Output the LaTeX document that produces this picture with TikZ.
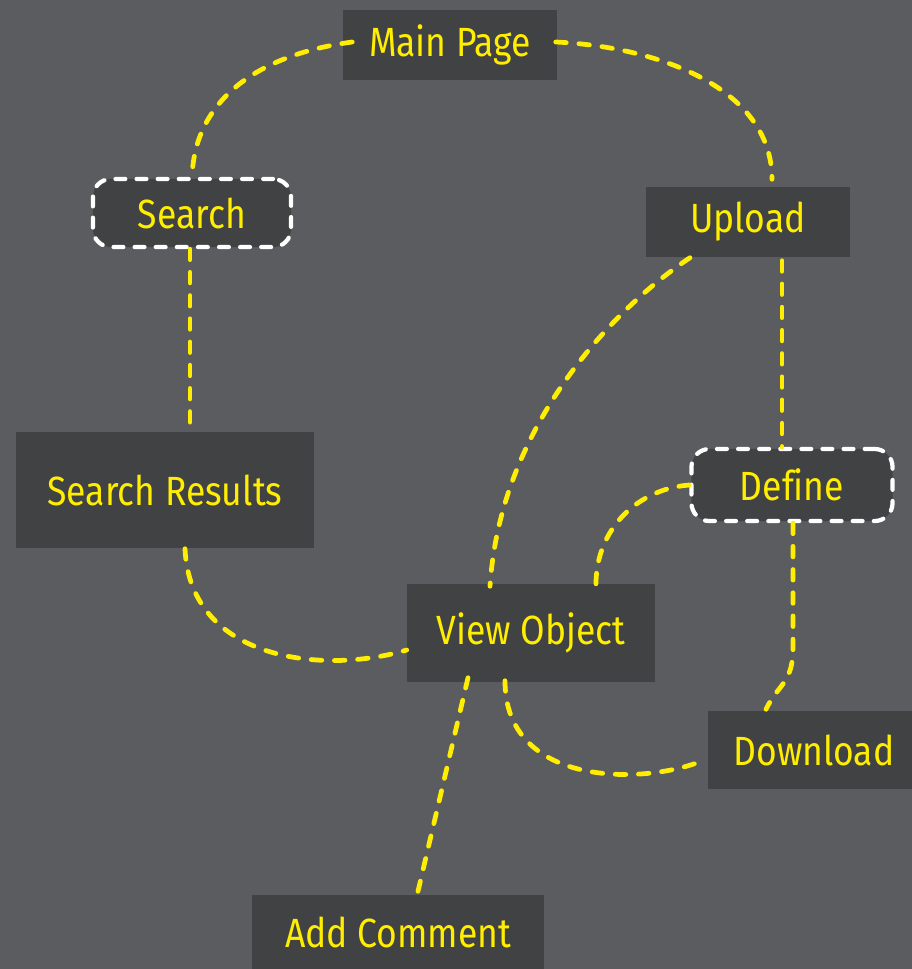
\documentclass[tikz,border=0pt]{standalone}
\usepackage{fontspec}
\setmainfont{Fira Sans}[FakeStretch=0.87, Ligatures=NoCommon]
\usetikzlibrary{calc}
\definecolor{bggray}{HTML}{5B5C5F}
\definecolor{linkyellow}{HTML}{FFEE00}

\begin{document}
\begin{tikzpicture}[x=0.01cm, y=0.01cm,
    pagebox/.style={fill=black, fill opacity=0.28, text opacity=1, text=linkyellow,
      font=\fontsize{11.6}{14}\selectfont},
    markedbox/.style={pagebox, draw=white, line width=1.2pt,
      dash pattern=on 2.8pt off 3.2pt, line cap=round, rounded corners=0.18cm},
    linkline/.style={linkyellow, line width=1.35pt, dash pattern=on 3pt off 3.6pt, line cap=round}]
    % Background
    \useasboundingbox (0,0) rectangle (912,-969);
    \fill[bggray] (0,0) rectangle (912,-969);

    % Pages
    \node[pagebox, minimum width=2.14cm, minimum height=0.70cm] (mainpage) at (450,-45) {Main Page};
    \node[markedbox, minimum width=1.98cm, minimum height=0.68cm] (search) at (192,-213) {Search};
    \node[pagebox, minimum width=2.04cm, minimum height=0.70cm] (upload) at (748,-222) {Upload};
    \node[pagebox, minimum width=2.98cm, minimum height=1.16cm] (results) at (165,-490) {Search Results};
    \node[markedbox, minimum width=2.01cm, minimum height=0.72cm] (define) at (792,-485) {Define};
    \node[pagebox, minimum width=2.47cm, minimum height=0.98cm] (viewobj) at (531,-633) {View Object};
    \node[pagebox, minimum width=2.12cm, minimum height=0.78cm] (download) at (814,-750) {Download};
    \node[pagebox, minimum width=2.92cm, minimum height=0.74cm] (comment) at (398,-932) {Add Comment};

    % Links between pages
    \draw[linkline] ($(mainpage.west)+(10,3)$) .. controls +(-90,-12) and +(3,80) .. (search.north);
    \draw[linkline] ($(mainpage.east)+(-2,3)$) .. controls +(105,-5) and +(0,90) .. ($(upload.north)+(24,7)$);
    \draw[linkline] ($(search.south)+(-2,0)$) -- ($(results.north)+(25,0)$);
    \draw[linkline] ($(upload.south)+(-58,0)$) .. controls +(-80,-53) and +(10,157) .. ($(viewobj.north)+(-41,-3)$);
    \draw[linkline] ($(upload.south)+(34,-3)$) -- ($(define.north)+(-10,0)$);
    \draw[linkline] (define.west) .. controls +(-52,-4) and +(0,55) .. ($(viewobj.north)+(65,-1)$);
    \draw[linkline] ($(define.south)+(1,0)$) -- ++(0,-125) .. controls +(0,-35) and +(12,25) .. ($(download.north)+(-48,1)$);
    \draw[linkline] ($(results.south)+(20,0)$) .. controls +(5,-112) and +(-83,-25) .. ($(viewobj.west)+(0,-17)$);
    \draw[linkline] ($(viewobj.south)+(-26,2)$) .. controls +(0,-105) and +(-60,-23) .. ($(download.west)+(-8,-12)$);
    \draw[linkline] ($(viewobj.south)+(-63,5)$) -- ($(comment.north)+(20,3)$);
\end{tikzpicture}
\end{document}
